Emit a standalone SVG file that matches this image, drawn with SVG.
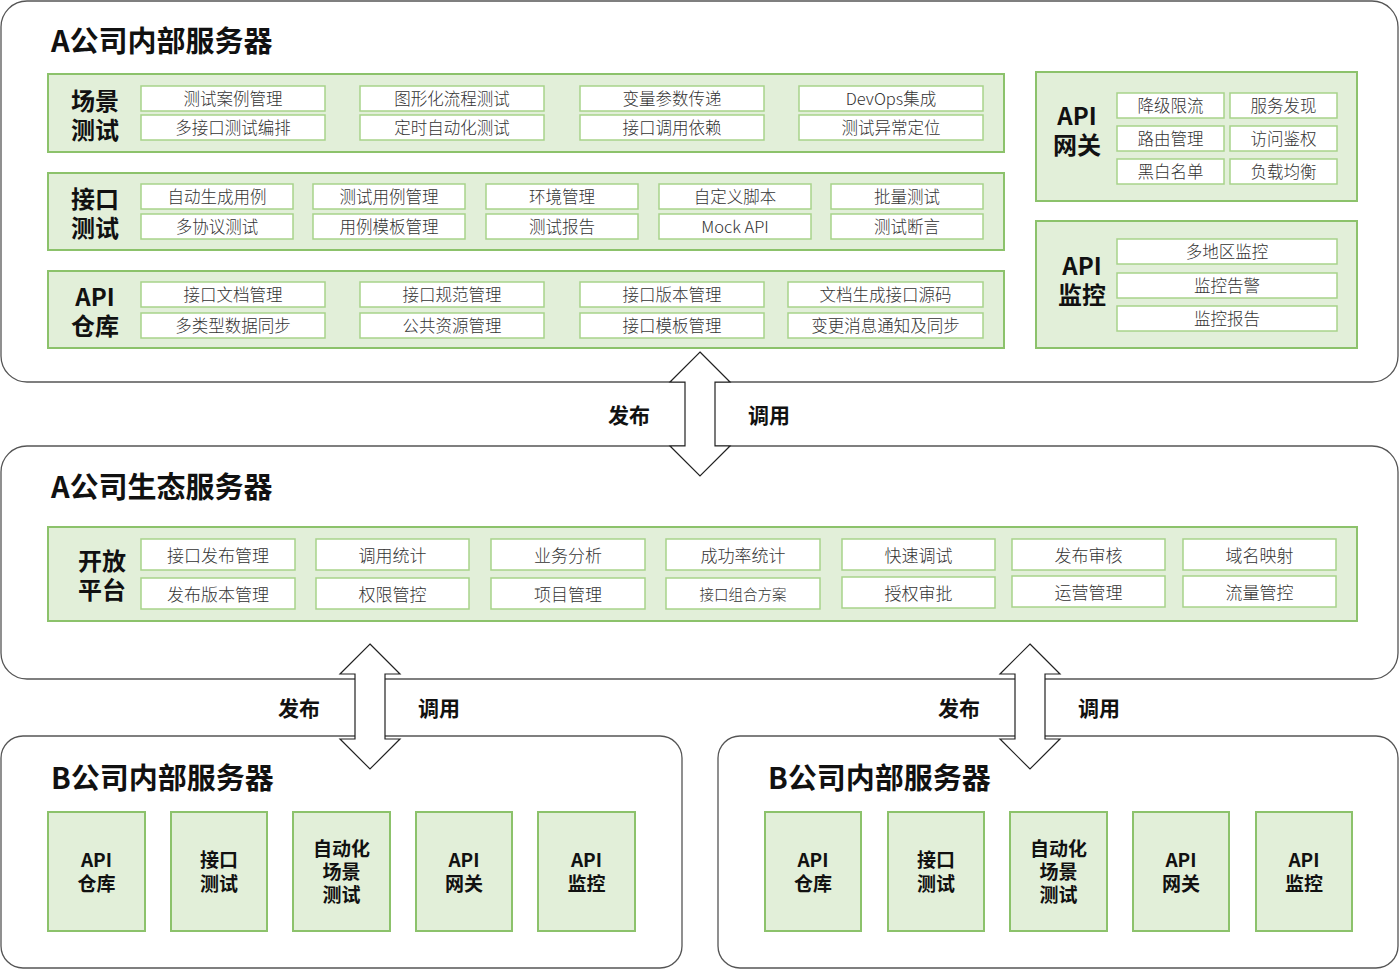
<svg xmlns="http://www.w3.org/2000/svg" width="1400" height="970" viewBox="0 0 1400 970">
<style>
.cont{fill:#fff;stroke:#555;stroke-width:1.3}
.panel{fill:#e2efd9;stroke:#8cc26b;stroke-width:2}
.cell{fill:#fff;stroke:#a8d38a;stroke-width:1.5}
.t{font-family:"Noto Sans CJK SC","Noto Sans",sans-serif;font-size:16.5px;fill:#333;text-anchor:middle;dominant-baseline:central;font-weight:300}
.h{font-family:"Noto Sans CJK SC","Noto Sans",sans-serif;font-weight:bold;font-size:29px;fill:#111}
.lb{font-family:"Noto Sans CJK SC","Noto Sans",sans-serif;font-weight:bold;font-size:24px;fill:#111;text-anchor:middle;dominant-baseline:central}
.bl{font-family:"Noto Sans CJK SC","Noto Sans",sans-serif;font-weight:bold;font-size:19px;fill:#111;text-anchor:middle;dominant-baseline:central}
.al{font-family:"Noto Sans CJK SC","Noto Sans",sans-serif;font-weight:bold;font-size:21px;fill:#111;text-anchor:middle;dominant-baseline:central}
.arr{fill:#fff;stroke:#222;stroke-width:1.2}
</style>

<g id="containerA">
<rect class="cont" x="1" y="1" width="1397" height="381" rx="26"/>
<text class="h" x="51" y="52">A公司内部服务器</text>
</g>

<g id="scene-test">
<rect class="panel" x="48" y="74" width="956" height="78"/>
<text class="lb" x="95" y="99">场景</text>
<text class="lb" x="95" y="128">测试</text>
<rect class="cell" x="141" y="86" width="184" height="25"/><text class="t" x="233" y="98">测试案例管理</text>
<rect class="cell" x="141" y="115" width="184" height="25"/><text class="t" x="233" y="127">多接口测试编排</text>
<rect class="cell" x="360" y="86" width="184" height="25"/><text class="t" x="452" y="98">图形化流程测试</text>
<rect class="cell" x="360" y="115" width="184" height="25"/><text class="t" x="452" y="127">定时自动化测试</text>
<rect class="cell" x="580" y="86" width="184" height="25"/><text class="t" x="672" y="98">变量参数传递</text>
<rect class="cell" x="580" y="115" width="184" height="25"/><text class="t" x="672" y="127">接口调用依赖</text>
<rect class="cell" x="799" y="86" width="184" height="25"/><text class="t" x="891" y="98">DevOps集成</text>
<rect class="cell" x="799" y="115" width="184" height="25"/><text class="t" x="891" y="127">测试异常定位</text>
</g>

<g id="api-test">
<rect class="panel" x="48" y="173" width="956" height="77"/>
<text class="lb" x="95" y="197">接口</text>
<text class="lb" x="95" y="226">测试</text>
<rect class="cell" x="141" y="184" width="152" height="25"/><text class="t" x="217" y="196">自动生成用例</text>
<rect class="cell" x="141" y="214" width="152" height="25"/><text class="t" x="217" y="226">多协议测试</text>
<rect class="cell" x="313" y="184" width="152" height="25"/><text class="t" x="389" y="196">测试用例管理</text>
<rect class="cell" x="313" y="214" width="152" height="25"/><text class="t" x="389" y="226">用例模板管理</text>
<rect class="cell" x="486" y="184" width="152" height="25"/><text class="t" x="562" y="196">环境管理</text>
<rect class="cell" x="486" y="214" width="152" height="25"/><text class="t" x="562" y="226">测试报告</text>
<rect class="cell" x="659" y="184" width="152" height="25"/><text class="t" x="735" y="196">自定义脚本</text>
<rect class="cell" x="659" y="214" width="152" height="25"/><text class="t" x="735" y="226">Mock API</text>
<rect class="cell" x="831" y="184" width="152" height="25"/><text class="t" x="907" y="196">批量测试</text>
<rect class="cell" x="831" y="214" width="152" height="25"/><text class="t" x="907" y="226">测试断言</text>
</g>

<g id="api-repo">
<rect class="panel" x="48" y="271" width="956" height="77"/>
<text class="lb" x="95" y="295">API</text>
<text class="lb" x="95" y="324">仓库</text>
<rect class="cell" x="141" y="282" width="184" height="25"/><text class="t" x="233" y="294">接口文档管理</text>
<rect class="cell" x="141" y="313" width="184" height="25"/><text class="t" x="233" y="325">多类型数据同步</text>
<rect class="cell" x="360" y="282" width="184" height="25"/><text class="t" x="452" y="294">接口规范管理</text>
<rect class="cell" x="360" y="313" width="184" height="25"/><text class="t" x="452" y="325">公共资源管理</text>
<rect class="cell" x="580" y="282" width="184" height="25"/><text class="t" x="672" y="294">接口版本管理</text>
<rect class="cell" x="580" y="313" width="184" height="25"/><text class="t" x="672" y="325">接口模板管理</text>
<rect class="cell" x="788" y="282" width="195" height="25"/><text class="t" x="885.5" y="294">文档生成接口源码</text>
<rect class="cell" x="788" y="313" width="195" height="25"/><text class="t" x="885.5" y="325">变更消息通知及同步</text>
</g>

<g id="api-gateway">
<rect class="panel" x="1036" y="72" width="321" height="129"/>
<text class="lb" x="1077" y="114">API</text>
<text class="lb" x="1077" y="143">网关</text>
<rect class="cell" x="1117" y="93" width="107" height="25"/><text class="t" x="1170.5" y="105">降级限流</text>
<rect class="cell" x="1230" y="93" width="107" height="25"/><text class="t" x="1283.5" y="105">服务发现</text>
<rect class="cell" x="1117" y="126" width="107" height="25"/><text class="t" x="1170.5" y="138">路由管理</text>
<rect class="cell" x="1230" y="126" width="107" height="25"/><text class="t" x="1283.5" y="138">访问鉴权</text>
<rect class="cell" x="1117" y="159" width="107" height="25"/><text class="t" x="1170.5" y="171">黑白名单</text>
<rect class="cell" x="1230" y="159" width="107" height="25"/><text class="t" x="1283.5" y="171">负载均衡</text>
</g>

<g id="api-monitor">
<rect class="panel" x="1036" y="221" width="321" height="127"/>
<text class="lb" x="1082" y="264">API</text>
<text class="lb" x="1082" y="293">监控</text>
<rect class="cell" x="1117" y="239" width="220" height="25"/><text class="t" x="1227" y="251">多地区监控</text>
<rect class="cell" x="1117" y="273" width="220" height="25"/><text class="t" x="1227" y="285">监控告警</text>
<rect class="cell" x="1117" y="306" width="220" height="25"/><text class="t" x="1227" y="318">监控报告</text>
</g>

<g id="containerEco">
<rect class="cont" x="1" y="446" width="1397" height="233" rx="26"/>
<text class="h" x="51" y="498">A公司生态服务器</text>
</g>

<g id="open-platform">
<rect class="panel" x="48" y="527" width="1309" height="94"/>
<text class="lb" x="102" y="559">开放</text>
<text class="lb" x="102" y="588">平台</text>
<rect class="cell" x="141" y="539" width="154" height="31"/><text class="t" x="218" y="554" style="font-size:17px">接口发布管理</text>
<rect class="cell" x="141" y="578" width="154" height="31"/><text class="t" x="218" y="593" style="font-size:17px">发布版本管理</text>
<rect class="cell" x="316" y="539" width="153" height="31"/><text class="t" x="392.5" y="554" style="font-size:17px">调用统计</text>
<rect class="cell" x="316" y="578" width="153" height="31"/><text class="t" x="392.5" y="593" style="font-size:17px">权限管控</text>
<rect class="cell" x="491" y="539" width="154" height="31"/><text class="t" x="568" y="554" style="font-size:17px">业务分析</text>
<rect class="cell" x="491" y="578" width="154" height="31"/><text class="t" x="568" y="593" style="font-size:17px">项目管理</text>
<rect class="cell" x="666" y="539" width="154" height="31"/><text class="t" x="743" y="554" style="font-size:17px">成功率统计</text>
<rect class="cell" x="666" y="578" width="154" height="31"/><text class="t" x="743" y="593" style="font-size:14.5px">接口组合方案</text>
<rect class="cell" x="842" y="539" width="153" height="31"/><text class="t" x="918.5" y="554" style="font-size:17px">快速调试</text>
<rect class="cell" x="842" y="577" width="153" height="31"/><text class="t" x="918.5" y="592" style="font-size:17px">授权审批</text>
<rect class="cell" x="1012" y="539" width="153" height="31"/><text class="t" x="1088.5" y="554" style="font-size:17px">发布审核</text>
<rect class="cell" x="1012" y="576" width="153" height="31"/><text class="t" x="1088.5" y="591" style="font-size:17px">运营管理</text>
<rect class="cell" x="1183" y="539" width="153" height="31"/><text class="t" x="1259.5" y="554" style="font-size:17px">域名映射</text>
<rect class="cell" x="1183" y="576" width="153" height="31"/><text class="t" x="1259.5" y="591" style="font-size:17px">流量管控</text>
</g>

<g id="containerB1">
<rect class="cont" x="1" y="736" width="681" height="232" rx="22"/>
<text class="h" x="51" y="789">B公司内部服务器</text>
<g id="b1-repo"><rect class="panel" x="48" y="812" width="97" height="119"/><text class="bl" x="96.5" y="858">API</text><text class="bl" x="96.5" y="882">仓库</text></g>
<g id="b1-test"><rect class="panel" x="171" y="812" width="96" height="119"/><text class="bl" x="219" y="858">接口</text><text class="bl" x="219" y="882">测试</text></g>
<g id="b1-auto"><rect class="panel" x="293" y="812" width="97" height="119"/><text class="bl" x="341.5" y="847">自动化</text><text class="bl" x="341.5" y="870">场景</text><text class="bl" x="341.5" y="893">测试</text></g>
<g id="b1-gw"><rect class="panel" x="416" y="812" width="96" height="119"/><text class="bl" x="464" y="858">API</text><text class="bl" x="464" y="882">网关</text></g>
<g id="b1-mon"><rect class="panel" x="538" y="812" width="97" height="119"/><text class="bl" x="586.5" y="858">API</text><text class="bl" x="586.5" y="882">监控</text></g>
</g>

<g id="containerB2">
<rect class="cont" x="718" y="736" width="680" height="232" rx="22"/>
<text class="h" x="768" y="789">B公司内部服务器</text>
<g id="b2-repo"><rect class="panel" x="765" y="812" width="96" height="119"/><text class="bl" x="813" y="858">API</text><text class="bl" x="813" y="882">仓库</text></g>
<g id="b2-test"><rect class="panel" x="888" y="812" width="96" height="119"/><text class="bl" x="936" y="858">接口</text><text class="bl" x="936" y="882">测试</text></g>
<g id="b2-auto"><rect class="panel" x="1010" y="812" width="97" height="119"/><text class="bl" x="1058.5" y="847">自动化</text><text class="bl" x="1058.5" y="870">场景</text><text class="bl" x="1058.5" y="893">测试</text></g>
<g id="b2-gw"><rect class="panel" x="1133" y="812" width="96" height="119"/><text class="bl" x="1181" y="858">API</text><text class="bl" x="1181" y="882">网关</text></g>
<g id="b2-mon"><rect class="panel" x="1256" y="812" width="96" height="119"/><text class="bl" x="1304" y="858">API</text><text class="bl" x="1304" y="882">监控</text></g>
</g>

<g id="connectors">
<path class="arr" d="M700,352 L730,382 L715,382 L715,446 L730,446 L700,476 L670,446 L685,446 L685,382 L670,382 Z"/>
<text class="al" x="629" y="414">发布</text>
<text class="al" x="769" y="414">调用</text>
<path class="arr" d="M370,644 L400,674 L385,674 L385,739 L400,739 L370,769 L340,739 L355,739 L355,674 L340,674 Z"/>
<text class="al" x="299" y="707">发布</text>
<text class="al" x="439" y="707">调用</text>
<path class="arr" d="M1030,644 L1060,674 L1045,674 L1045,739 L1060,739 L1030,769 L1000,739 L1015,739 L1015,674 L1000,674 Z"/>
<text class="al" x="959" y="707">发布</text>
<text class="al" x="1099" y="707">调用</text>
</g>
</svg>
